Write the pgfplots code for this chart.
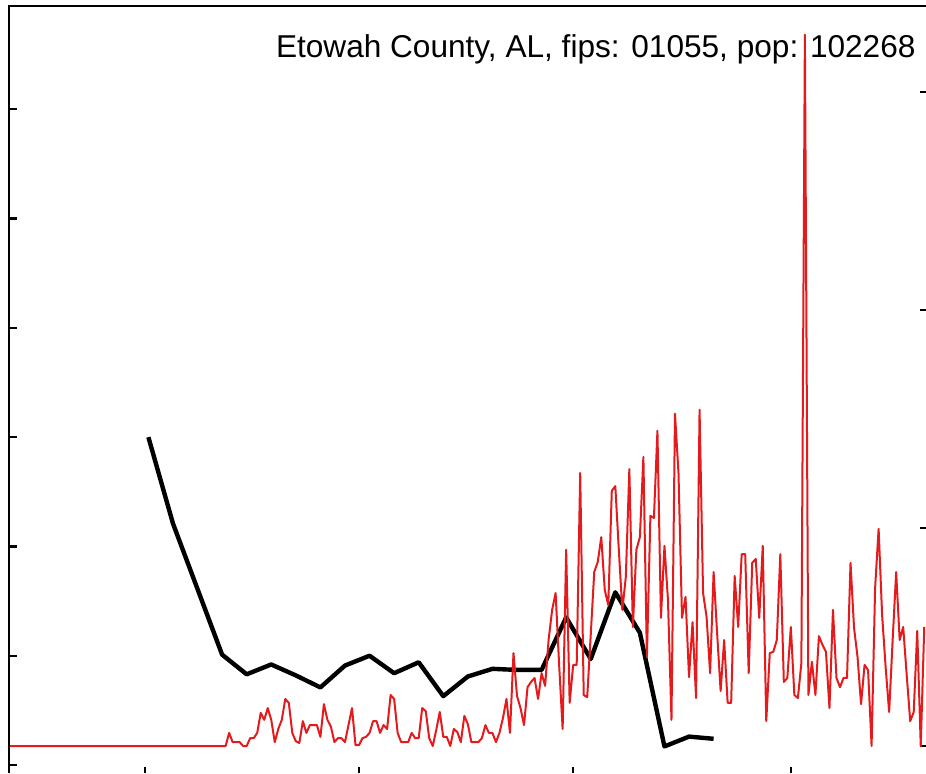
\documentclass[border=0pt]{standalone}
\usepackage{pgfplots}
\pgfplotsset{compat=1.18}
\usepackage{fontspec}
\setmainfont{Liberation Sans}
\definecolor{casered}{RGB}{228,26,28}

% weekly series (left axis), day 0 = first bottom tick
\pgfplotstableread{
day val
1   3.00
8   2.21
15  1.61
22  1.01
29  0.83
36  0.92
43  0.82
50  0.71
57  0.91
64  1.00
71  0.84
78  0.94
85  0.63
92  0.81
99  0.88
106 0.87
113 0.87
120 1.35
127 0.97
134 1.58
141 1.21
148 0.17
155 0.26
162 0.24
}\weekly

% daily series (right axis)
\pgfplotstableread{
day val
-39 0
23  0
24  3.0
25  0.9
26  0.9
27  0.9
28  0
29  0
30  1.8
31  1.8
32  3.0
33  7.6
34  6.0
35  8.7
36  6.0
37  0.9
38  3.9
39  6.0
40  10.8
41  9.9
42  3.0
43  1.1
44  0.7
45  5.7
46  3.0
47  4.8
48  4.8
49  4.8
50  2.1
51  9.6
52  6.0
53  4.4
54  0.9
55  1.8
56  1.8
57  0.9
58  4.8
59  8.7
60  0.2
61  0.2
62  1.8
63  2.1
64  3.0
65  5.7
66  5.7
67  3.0
68  4.8
69  3.9
70  11.7
71  10.8
72  3.0
73  0.9
74  0.9
75  0.9
76  3.0
77  1.8
78  1.8
79  8.7
80  8.0
81  1.8
82  0
83  3.7
84  7.8
85  2.1
86  2.1
87  0
88  3.9
89  3.2
90  0.9
91  6.9
92  5.0
93  0.9
94  0.9
95  0.9
96  1.8
97  4.8
98  3.0
99  3.0
100 0.9
101 3.0
102 6.4
103 10.8
104 3.0
105 21.3
106 11.5
107 8.7
108 4.8
109 13.5
110 14.7
111 15.6
112 10.8
113 16.7
114 13.8
115 24.3
116 31.2
117 35.1
118 18.6
119 3.9
120 45.0
121 9.9
122 18.6
123 18.6
124 62.6
125 11.7
126 11.2
127 25.5
128 39.9
129 42.2
130 47.9
131 35.8
132 32.3
133 58.5
134 59.6
135 45.0
136 31.2
137 38.8
138 63.5
139 27.3
140 45.0
141 47.9
142 66.3
143 20.4
144 52.8
145 52.3
146 72.3
147 29.4
148 45.9
149 33.5
150 6.0
151 76.2
152 62.6
153 29.4
154 34.2
155 15.8
156 28.4
157 11.0
158 77.1
159 35.1
160 29.6
161 16.7
162 39.9
163 25.9
164 12.6
165 24.3
166 9.9
167 9.9
168 39.0
169 27.3
170 44.0
171 44.0
172 16.7
173 42.0
174 42.9
175 29.4
176 45.9
177 5.7
178 21.3
179 21.6
180 24.3
181 44.0
182 14.7
183 15.6
184 27.3
185 11.7
186 11.0
187 19.0
188 163.1
189 11.7
190 19.3
191 11.7
192 25.2
193 23.2
194 21.6
195 8.7
196 31.2
197 15.6
198 13.5
199 15.6
200 15.6
201 42.0
202 27.1
203 20.4
204 9.6
205 18.6
206 17.4
207 0
208 36.2
209 49.8
210 30.0
211 18.1
212 7.8
213 24.3
214 39.9
215 24.3
216 27.3
217 16.3
218 5.7
219 7.8
220 26.4
221 0
222 27.3
}\daily

\begin{document}
\begin{tikzpicture}
\useasboundingbox (0,0) rectangle (463pt,386.5pt);
\begin{axis}[
  name=ax,
  at={(4.5pt,0pt)}, anchor=south west,
  width=458.5pt, height=383.5pt, scale only axis,
  xmin=-38.7, xmax=222.5,
  ymin=-0.073, ymax=6.944,
  axis line style={draw=none},
  xtick=\empty,
  ytick={0,1,2,3,4,5,6}, yticklabels={},
  ytick pos=left, tick align=inside,
  major tick length=4pt,
  tick style={black, line width=1.1pt},
  clip=false,
]
  \addplot[black, line width=2.2pt, line join=round] table[x=day, y=val] {\weekly};
  \node[anchor=base east, inner sep=0pt, font=\fontsize{15.8}{19}\selectfont]
    at (rel axis cs:0.989,0.9335) {Etowah County, AL, fips: 01055, pop: 102268};
\end{axis}
\begin{axis}[
  at={(4.5pt,0pt)}, anchor=south west,
  width=458.5pt, height=383.5pt, scale only axis,
  xmin=-38.7, xmax=222.5,
  ymin=-6.19, ymax=169.7,
  axis line style={draw=none},
  xtick={0,61,122,184}, xticklabels={},
  ytick={0,50,100,150}, yticklabels={},
  xtick pos=bottom, ytick pos=right, tick align=inside,
  major tick length=3pt,
  tick style={black, line width=1.1pt},
]
  \addplot[casered, line width=1pt, line join=round] table[x=day, y=val] {\daily};
\end{axis}
\draw[line width=1.2pt] (ax.south west) -- (ax.north west) -- (ax.north east);
\end{tikzpicture}
\end{document}
